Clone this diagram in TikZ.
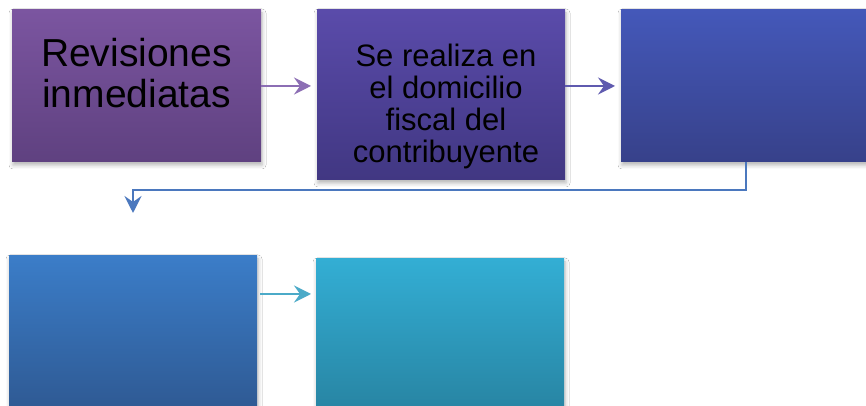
\documentclass[tikz,border=0pt]{standalone}
\usepackage{fontspec}
\setmainfont{Liberation Sans}
\usetikzlibrary{arrows.meta,shadows.blur,calc}
\definecolor{aT}{RGB}{123,85,160}\definecolor{aB}{RGB}{95,65,128}
\definecolor{bT}{RGB}{90,75,170}\definecolor{bB}{RGB}{65,55,130}
\definecolor{cT}{RGB}{68,88,185}\definecolor{cB}{RGB}{55,65,138}
\definecolor{dT}{RGB}{59,125,200}\definecolor{dB}{RGB}{46,88,145}
\definecolor{eT}{RGB}{51,174,212}\definecolor{eB}{RGB}{39,130,160}
\definecolor{arA}{RGB}{140,110,180}
\definecolor{arB}{RGB}{95,90,175}
\definecolor{arC}{RGB}{75,120,190}
\definecolor{arD}{RGB}{75,170,200}
\tikzset{
  box/.style={rectangle, inner sep=0pt, outer sep=0pt,
    blur shadow={shadow xshift=1pt, shadow yshift=-3pt, shadow blur radius=4pt, shadow opacity=30}},
  flowarrow/.style={line width=1.8pt, -{Stealth[length=17pt,width=17pt,inset=6pt]}},
  boxtext/.style={align=center, inner sep=0pt, text=black}
}
\begin{document}
\begin{tikzpicture}[x=1pt,y=1pt]
\useasboundingbox (0,0) rectangle (866,406);
\clip (0,0) rectangle (866,406);
\fill[white] (0,0) rectangle (866,406);
% boxes
\node[box, top color=aT, bottom color=aB, minimum width=249pt, minimum height=152pt] (b1) at (136.5,320) {};
\node[box, top color=bT, bottom color=bB, minimum width=248pt, minimum height=170pt] (b2) at (441,311) {};
\node[box, top color=cT, bottom color=cB, minimum width=249pt, minimum height=152pt] (b3) at (745.5,320) {};
\node[box, top color=dT, bottom color=dB, minimum width=248pt, minimum height=160pt] (b4) at (133,70) {};
\node[box, top color=eT, bottom color=eB, minimum width=248pt, minimum height=160pt] (b5) at (440,67) {};
% texts
\node[boxtext, font=\fontsize{39}{41}\selectfont] (t1) at (136.5,333) {Revisiones\\inmediatas};
\node[boxtext, font=\fontsize{31}{32}\selectfont] (t2) at (446,300) {Se realiza en\\el domicilio\\fiscal del\\contribuyente};
% connectors
\draw[flowarrow, draw=arA, shorten >=6pt] (b1.east) -- (b1.east -| b2.west);
\draw[flowarrow, draw=arB, shorten >=6pt] ($(b2.east)+(0,9)$) -- ($(b2.east -| b3.west)+(0,9)$);
\draw[flowarrow, draw=arC, line width=2pt, shorten >=43pt] (b3.south) -- ++(0,-28) -| (b4.north);
\coordinate (d1) at ($(b4.north east)+(3,-38)$);
\draw[flowarrow, draw=arD, shorten >=5pt] (d1) -- (d1 -| b5.west);
\end{tikzpicture}
\end{document}
